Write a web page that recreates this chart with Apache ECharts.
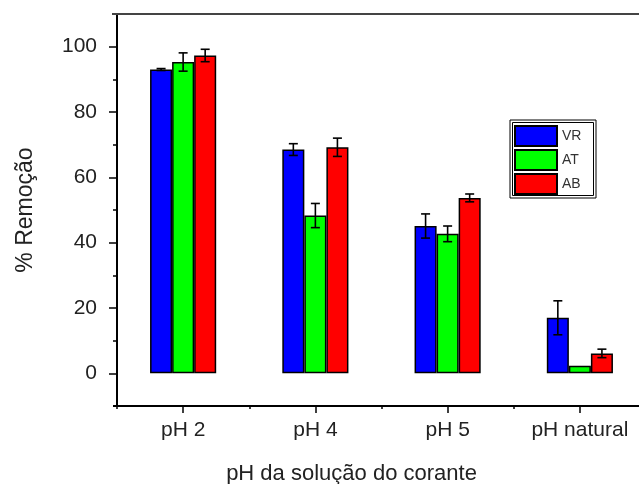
<!DOCTYPE html>
<html>
<head>
<meta charset="utf-8">
<script src="https://cdn.jsdelivr.net/npm/echarts@6/dist/echarts.min.js"></script>
<style>
html,body{margin:0;padding:0;background:#fff;}
#chart{width:639px;height:484px;}
</style>
</head>
<body>
<div id="chart"></div>
<script>
const categories = ['pH 2', 'pH 4', 'pH 5', 'pH natural'];
const seriesNames = ['VR', 'AT', 'AB'];
const vrValues = [93.0, 68.5, 45.1, 17.0];
const vrErrors = [0.3, 1.8, 3.7, 5.2];
const atValues = [95.3, 48.3, 42.7, 2.3];
const atErrors = [2.8, 3.7, 2.4, 0];
const abValues = [97.3, 69.2, 53.7, 6.1];
const abErrors = [1.9, 2.8, 1.2, 1.3];
const yMajorTicks = [0, 20, 40, 60, 80, 100];
const yMinorTicks = [10, 30, 50, 70, 90, 110];

const colors = ['#0000ff', '#00ff00', '#ff0000'];
const values = [vrValues, atValues, abValues];
const errors = [vrErrors, atErrors, abErrors];
const GAP = 0.5;
const FONT = '"Liberation Sans", Arial, sans-serif';

const chart = echarts.init(document.getElementById('chart'), null, {renderer: 'canvas'});

const series = [];
seriesNames.forEach((name, i) => {
  series.push({
    name: name,
    type: 'bar',
    xAxisIndex: 0,
    yAxisIndex: 0,
    data: values[i],
    barGap: '0%',
    barCategoryGap: (GAP * 100) + '%',
    itemStyle: {color: colors[i], borderColor: '#000', borderWidth: 1.5},
    emphasis: {disabled: true},
    z: 2
  });
});
seriesNames.forEach((name, i) => {
  series.push({
    name: name + '_err',
    type: 'custom',
    xAxisIndex: 0,
    yAxisIndex: 0,
    data: values[i].map((v, k) => [k, v, errors[i][k]]),
    encode: {x: 0, y: 1},
    z: 5,
    clip: false,
    renderItem: function (params, api) {
      const k = api.value(0), v = api.value(1), e = api.value(2);
      if (!e) return null;
      const catW = api.size([1, 0])[0];
      const barW = catW * (1 - GAP) / 3;
      const c = api.coord([k, v]);
      const x = c[0] + (i - 1) * barW;
      const top = api.coord([k, v + e])[1];
      const bot = api.coord([k, v - e])[1];
      const cap = 4.5;
      const st = {stroke: '#000', lineWidth: 1.6};
      return {
        type: 'group',
        children: [
          {type: 'line', shape: {x1: x, y1: top, x2: x, y2: bot}, style: st},
          {type: 'line', shape: {x1: x - cap, y1: top, x2: x + cap, y2: top}, style: st},
          {type: 'line', shape: {x1: x - cap, y1: bot, x2: x + cap, y2: bot}, style: st}
        ]
      };
    }
  });
});

const option = {
  animation: false,
  backgroundColor: '#fff',
  grid: {left: 117, right: -7, top: 14, bottom: 78, containLabel: false, outerBoundsMode: 'none'},
  legend: {
    data: seriesNames,
    orient: 'vertical',
    left: 512,
    top: 123,
    padding: [2, 14, 2, 2],
    itemWidth: 42,
    itemHeight: 20,
    itemGap: 2,
    icon: 'rect',
    textStyle: {fontFamily: FONT, fontSize: 14, color: '#333'},
    selectedMode: false
  },
  xAxis: [
    {
      type: 'category',
      data: categories,
      position: 'bottom',
      axisLine: {onZero: false, lineStyle: {color: '#000', width: 2}},
      axisTick: {show: true, length: 3, inside: false, lineStyle: {color: '#000', width: 1.5}},
      axisLabel: {fontFamily: FONT, fontSize: 21, color: '#222', margin: 14},
      name: 'pH da solução do corante',
      nameLocation: 'middle',
      nameGap: 57,
      nameTextStyle: {fontFamily: FONT, fontSize: 22, color: '#222', padding: [0, 60, 0, 0]},
      splitLine: {show: false}
    },
    {
      type: 'category',
      data: categories,
      position: 'bottom',
      axisLine: {show: false, onZero: false},
      axisTick: {show: true, alignWithLabel: true, length: 7, lineStyle: {color: '#000', width: 1.5}},
      axisLabel: {show: false},
      splitLine: {show: false}
    }
  ],
  yAxis: [
    {
      type: 'value',
      min: -10,
      max: 110,
      position: 'left',
      axisLine: {show: true, lineStyle: {color: '#000', width: 2}},
      axisTick: {show: true, length: 8, customValues: yMajorTicks, lineStyle: {color: '#000', width: 1.5}},
      axisLabel: {fontFamily: FONT, fontSize: 21, color: '#222', margin: 20, customValues: yMajorTicks},
      splitLine: {show: false},
      name: '% Remoção',
      nameLocation: 'middle',
      nameGap: 80,
      nameTextStyle: {fontFamily: FONT, fontSize: 23, color: '#222'}
    },
    {
      type: 'value',
      min: -10,
      max: 110,
      position: 'left',
      axisLine: {show: false},
      axisTick: {show: true, length: 4, customValues: yMinorTicks, lineStyle: {color: '#000', width: 1.5}},
      axisLabel: {show: false, customValues: yMinorTicks},
      splitLine: {show: false}
    }
  ],
  graphic: [
    {type: 'line', shape: {x1: 112, y1: 14, x2: 639, y2: 14}, style: {stroke: '#444', lineWidth: 2}, z: 10},
    {type: 'line', shape: {x1: 113, y1: 406, x2: 118, y2: 406}, style: {stroke: '#000', lineWidth: 2}, z: 10},
    {type: 'rect', shape: {x: 510, y: 120, width: 86, height: 78}, style: {fill: 'none', stroke: '#000', lineWidth: 1}, z: 10},
    {type: 'rect', shape: {x: 512.5, y: 122.5, width: 81, height: 73}, style: {fill: 'none', stroke: '#000', lineWidth: 1}, z: 10}
  ],
  series: series
};
chart.setOption(option);
</script>
</body>
</html>
